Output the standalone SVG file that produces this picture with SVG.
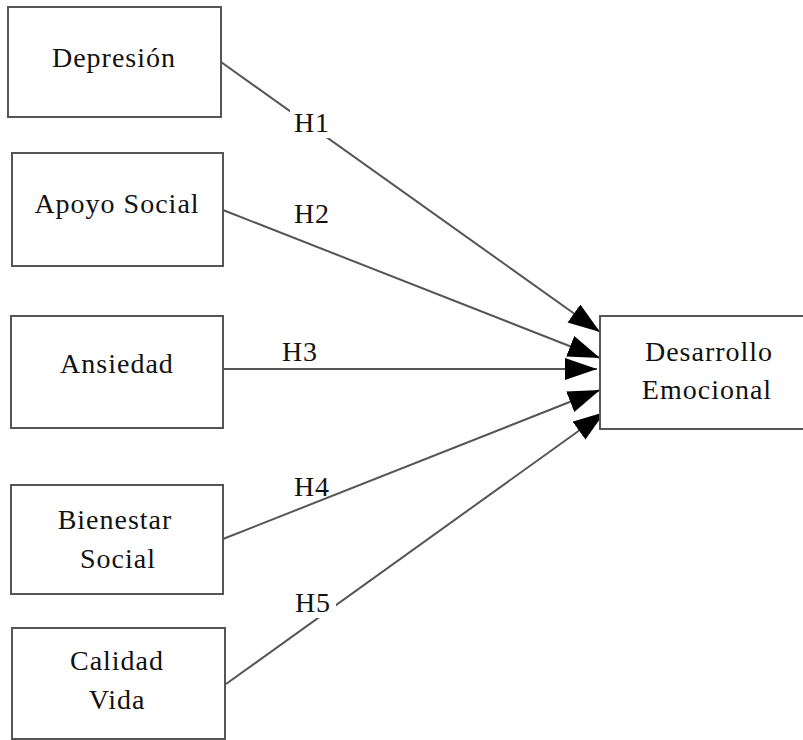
<svg xmlns="http://www.w3.org/2000/svg" width="803" height="740" viewBox="0 0 803 740">
<style>
.box{fill:#fff;stroke:#555;stroke-width:2}
.t{font-family:"Liberation Serif","Times New Roman",serif;font-size:28px;fill:#111;text-anchor:middle;letter-spacing:1px}
.e{stroke:#555;stroke-width:2;fill:none;marker-end:url(#ah)}
.lb{fill:#fff}
</style>
<defs>
<marker id="ah" markerUnits="userSpaceOnUse" markerWidth="34" markerHeight="24" refX="32" refY="11" orient="auto" viewBox="0 0 34 24">
<path d="M0,0 L32,11 L0,22 z" fill="#000"/>
</marker>
</defs>
<rect width="803" height="740" fill="#fff"/>
<g id="connectors">
<line class="e" x1="221" y1="62" x2="600" y2="332"/>
<line class="e" x1="223" y1="210" x2="600" y2="358"/>
<line class="e" x1="223" y1="369" x2="597" y2="369"/>
<line class="e" x1="223" y1="539" x2="600" y2="390"/>
<line class="e" x1="226" y1="684" x2="605" y2="412"/>
<rect class="lb" x="290" y="108" width="44" height="30"/>
<text class="t" x="312" y="132">H1</text>
<text class="t" x="312" y="223">H2</text>
<text class="t" x="300" y="361">H3</text>
<text class="t" x="312" y="496">H4</text>
<rect class="lb" x="290" y="588" width="46" height="30"/>
<text class="t" x="313" y="612">H5</text>
</g>
<g id="depresion">
<rect class="box" x="8" y="7" width="213" height="110"/>
<text class="t" x="114" y="67">Depresión</text>
</g>
<g id="apoyo">
<rect class="box" x="12" y="153" width="211" height="113"/>
<text class="t" x="117" y="213">Apoyo Social</text>
</g>
<g id="ansiedad">
<rect class="box" x="11" y="316" width="212" height="112"/>
<text class="t" x="117" y="373">Ansiedad</text>
</g>
<g id="bienestar">
<rect class="box" x="11" y="485" width="212" height="109"/>
<text class="t" x="115" y="529">Bienestar</text>
<text class="t" x="118" y="568">Social</text>
</g>
<g id="calidad">
<rect class="box" x="12" y="628" width="213" height="111"/>
<text class="t" x="117" y="670">Calidad</text>
<text class="t" x="117" y="709">Vida</text>
</g>
<g id="desarrollo">
<rect class="box" x="600" y="316" width="206" height="113"/>
<text class="t" x="709" y="361">Desarrollo</text>
<text class="t" x="707" y="399">Emocional</text>
</g>
</svg>
